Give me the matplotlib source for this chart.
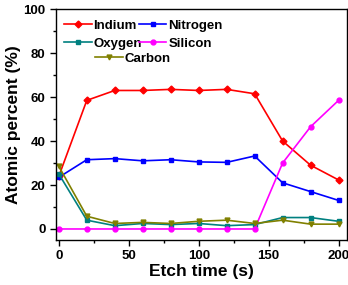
import matplotlib.pyplot as plt
from matplotlib.ticker import MultipleLocator

plt.rcParams['font.family'] = ['Liberation Sans', 'DejaVu Sans']
plt.rcParams['font.weight'] = 'bold'

# etch time (s)
t = [0, 20, 40, 60, 80, 100, 120, 140, 160, 180, 200]
indium = [24, 58.5, 63, 63, 63.5, 63, 63.5, 61.5, 40, 29, 22.3]
nitrogen = [23.5, 31.5, 32, 31, 31.5, 30.5, 30.3, 33.2, 21, 17, 13]
oxygen = [25, 4, 1.5, 2.5, 2, 2.5, 1.5, 2, 5.2, 5.2, 3.5]
silicon = [0, 0, 0, 0, 0, 0, 0, 0, 30, 46.5, 58.5]
carbon = [28.5, 5.8, 2.5, 3, 2.5, 3.5, 4, 2.5, 4, 2.2, 2.2]

fig = plt.figure(figsize=(3.48, 2.85), dpi=100)
ax = fig.add_axes([0.161, 0.158, 0.836, 0.81])

l1, = ax.plot(t, indium, '-D', color='#ff0000', ms=3.5, lw=1.2, label='Indium')
l2, = ax.plot(t, nitrogen, '-s', color='#0000ff', ms=3.5, lw=1.2, label='Nitrogen')
l3, = ax.plot(t, oxygen, '-s', color='#008080', ms=3.5, lw=1.2, label='Oxygen')
l4, = ax.plot(t, silicon, '-o', color='#ff00ff', ms=3.5, lw=1.2, label='Silicon')
l5, = ax.plot(t, carbon, '-v', color='#808000', ms=3.5, lw=1.2, label='Carbon')

ax.set_xlim(-2, 206)
ax.set_ylim(-5, 100)
ax.xaxis.set_major_locator(MultipleLocator(50))
ax.xaxis.set_minor_locator(MultipleLocator(25))
ax.yaxis.set_major_locator(MultipleLocator(20))
ax.yaxis.set_minor_locator(MultipleLocator(10))
ax.tick_params(which='both', direction='out', labelsize=9.5, width=1)
ax.tick_params(which='major', length=4)
ax.tick_params(which='minor', length=2.5)
for s in ax.spines.values():
    s.set_linewidth(1)

ax.set_xlabel('Etch time (s)', fontsize=12.5, fontweight='bold', labelpad=1)
ax.set_ylabel('Atomic percent (%)', fontsize=12.5, fontweight='bold', labelpad=2)

kw = dict(frameon=False, fontsize=9.5, handlelength=2.1, handletextpad=0.15,
          borderpad=0, borderaxespad=0)
leg1 = ax.legend(handles=[l1, l3, l2, l4], ncol=2, loc='upper left',
                 bbox_to_anchor=(0.027, 0.955), columnspacing=-0.25,
                 labelspacing=0.45, **kw)
ax.add_artist(leg1)
ax.legend(handles=[l5], loc='upper left', bbox_to_anchor=(0.134, 0.812), **kw)

fig.savefig('out.png', dpi=100)
